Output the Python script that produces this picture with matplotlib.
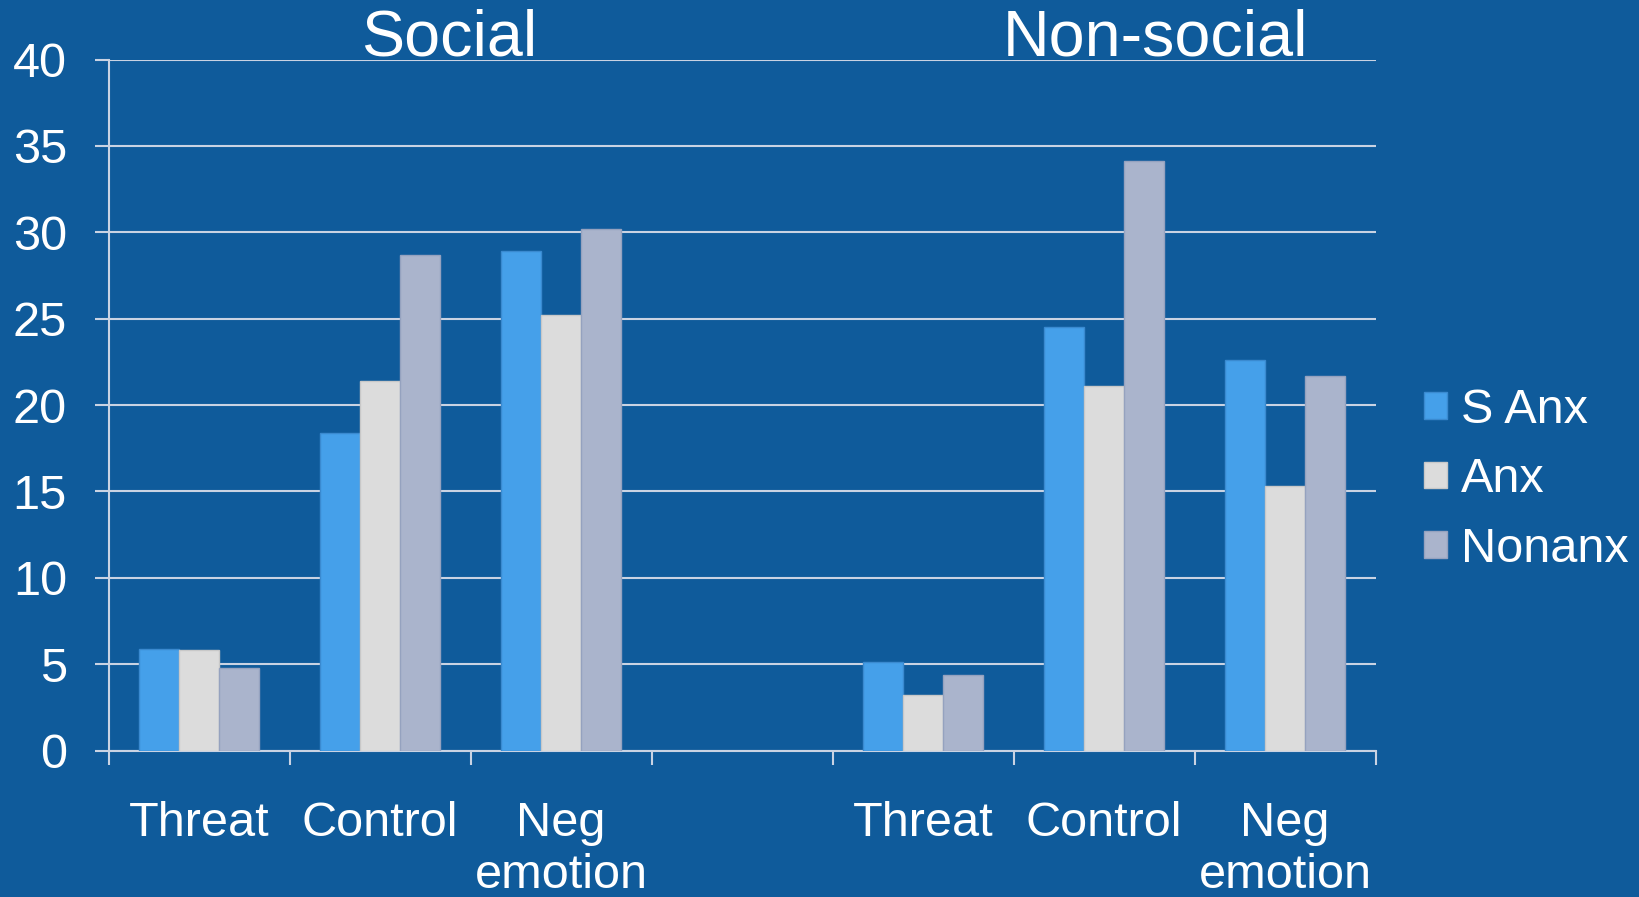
import numpy as np
import matplotlib
matplotlib.use('Agg')
import matplotlib.pyplot as plt

plt.rcParams['font.family'] = ['Liberation Sans', 'DejaVu Sans']

# bar heights per category, one list per group (empty slot between the two panels)
categories = ['Threat', 'Control', 'Neg\nemotion', '', 'Threat', 'Control', 'Neg\nemotion']
s_anx = [5.9, 18.4, 28.9, 0, 5.1, 24.5, 22.6]
anx = [5.8, 21.4, 25.2, 0, 3.2, 21.1, 15.3]
nonanx = [4.8, 28.7, 30.2, 0, 4.4, 34.1, 21.7]
series_names = ['S Anx', 'Anx', 'Nonanx']
panel_titles = ['Social', 'Non-social']

bg = '#0f5b9b'
fg = 'white'
grid_col = '#c9d3e3'
colors = ['#45a0ea', '#dcdcdc', '#aab4cc']
edges = ['#3a8ad0', '#c8c8c8', '#95a2bf']

fig = plt.figure(figsize=(16.39, 8.97), dpi=100, facecolor=bg)
ax = fig.add_axes([0.0663, 0.1633, 0.773, 0.7703], facecolor=bg)

x = np.arange(len(categories))
w = 0.222
keep = [j for j, c in enumerate(categories) if c]
for i, (vals, name) in enumerate(zip([s_anx, anx, nonanx], series_names)):
    ax.bar(x[keep] + (i - 1) * w, np.array(vals)[keep], width=w,
           color=colors[i], edgecolor=edges[i], linewidth=1.0,
           label=name, zorder=3)

ax.set_xlim(-0.5, len(categories) - 0.5)
ax.set_ylim(0, 40)
ax.set_yticks(range(0, 41, 5))
ax.yaxis.grid(True, color=grid_col, linewidth=1.5, zorder=0)
ax.tick_params(axis='y', colors=grid_col, length=10, width=1.5, pad=20,
               labelsize=35, labelcolor=fg)

ax.set_xticks(x)
ax.set_xticklabels(categories, fontsize=35, color=fg, linespacing=1.2)
ax.set_xticks(np.arange(-0.5, len(categories)), minor=True)
ax.tick_params(axis='x', which='major', length=0, pad=36)
ax.tick_params(axis='x', which='minor', length=10, width=1.5, colors=grid_col)

for side in ['top', 'right']:
    ax.spines[side].set_visible(False)
ax.spines['left'].set_color(grid_col)
ax.spines['bottom'].set_color(grid_col)
ax.spines['left'].set_linewidth(1.5)
ax.spines['bottom'].set_linewidth(1.5)

fig.text(0.274, 0.957, panel_titles[0], ha='center', va='center',
         fontsize=46.5, color=fg)
fig.text(0.705, 0.957, panel_titles[1], ha='center', va='center',
         fontsize=46.5, color=fg)

leg = fig.legend(loc='center left', bbox_to_anchor=(0.869, 0.465),
                 bbox_transform=fig.transFigure, frameon=False,
                 fontsize=35, handlelength=0.47, handleheight=0.47,
                 handletextpad=0.28, labelspacing=0.5,
                 borderpad=0, borderaxespad=0)
for t in leg.get_texts():
    t.set_color(fg)

fig.savefig('out.png', dpi=100, facecolor=bg)
